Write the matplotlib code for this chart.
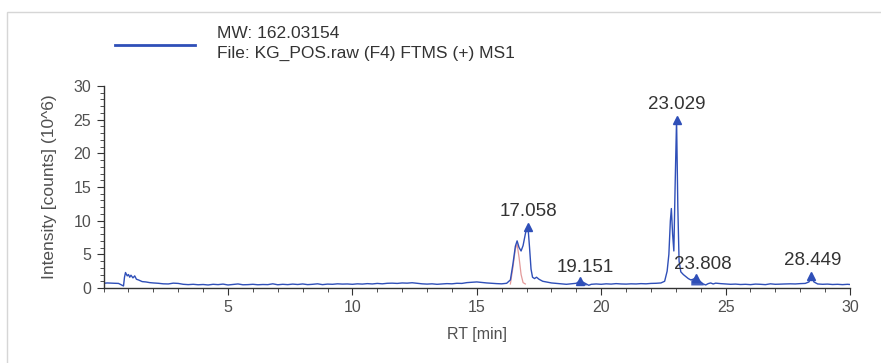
import matplotlib
matplotlib.use("Agg")
import matplotlib.pyplot as plt
from matplotlib.ticker import MultipleLocator
from matplotlib.patches import Rectangle
import numpy as np

plt.rcParams['font.family'] = ['Liberation Sans', 'DejaVu Sans']

# chromatogram trace, RT (min) vs intensity (10^6 counts)
rt = [0.00, 0.15, 0.30, 0.45, 0.60, 0.72, 0.80, 0.84, 0.88, 0.95, 1.00, 1.05, 1.10, 1.18, 1.25,
      1.32, 1.40, 1.55, 1.70, 1.85, 2.00, 2.20, 2.40, 2.60, 2.80, 3.00, 3.20, 3.40, 3.60, 3.80,
      4.00, 4.20, 4.40, 4.60, 4.80, 5.00, 5.20, 5.40, 5.60, 5.80, 6.00, 6.20, 6.40, 6.60, 6.80,
      7.00, 7.20, 7.40, 7.60, 7.80, 8.00, 8.20, 8.40, 8.60, 8.80, 9.00, 9.20, 9.40, 9.60, 9.80,
      10.00, 10.20, 10.40, 10.60, 10.80, 11.00, 11.20, 11.40, 11.60, 11.80, 12.00, 12.20, 12.40,
      12.60, 12.80, 13.00, 13.20, 13.40, 13.60, 13.80, 14.00, 14.20, 14.40, 14.60, 14.80, 15.00,
      15.20, 15.40, 15.60, 15.80, 16.00, 16.20, 16.35, 16.45, 16.55, 16.62, 16.70, 16.78, 16.86,
      16.95, 17.00, 17.058, 17.12, 17.18, 17.24, 17.32, 17.40, 17.50, 17.65, 17.80, 18.00, 18.20,
      18.40, 18.60, 18.80, 19.00, 19.10, 19.151, 19.25, 19.40, 19.50, 19.60, 19.80, 20.00, 20.20,
      20.40, 20.60, 20.80, 21.00, 21.20, 21.40, 21.60, 21.80, 22.00, 22.20, 22.40, 22.55, 22.65,
      22.72, 22.78, 22.82, 22.87, 22.92, 22.97, 23.029, 23.08, 23.13, 23.20, 23.30, 23.40, 23.50,
      23.60, 23.70, 23.808, 23.90, 24.00, 24.10, 24.20, 24.30, 24.40, 24.50, 24.60, 24.80, 25.00,
      25.20, 25.40, 25.60, 25.80, 26.00, 26.20, 26.40, 26.60, 26.80, 27.00, 27.20, 27.40, 27.60,
      27.80, 28.00, 28.20, 28.35, 28.449, 28.55, 28.70, 28.90, 29.10, 29.30, 29.50, 29.70, 29.90,
      30.00]
intensity = [0.70, 0.75, 0.72, 0.70, 0.68, 0.45, 0.30, 1.60, 2.30, 1.80, 2.00, 1.60, 1.90, 1.50, 1.80,
             1.30, 1.20, 0.95, 0.90, 0.80, 0.75, 0.70, 0.62, 0.60, 0.72, 0.68, 0.55, 0.50, 0.55, 0.48,
             0.52, 0.45, 0.55, 0.50, 0.58, 0.45, 0.52, 0.60, 0.48, 0.50, 0.55, 0.48, 0.52, 0.50, 0.62,
             0.48, 0.55, 0.50, 0.58, 0.52, 0.60, 0.50, 0.55, 0.62, 0.50, 0.58, 0.55, 0.62, 0.58, 0.60,
             0.55, 0.62, 0.58, 0.65, 0.60, 0.68, 0.62, 0.70, 0.72, 0.68, 0.75, 0.72, 0.78,
             0.70, 0.62, 0.58, 0.62, 0.55, 0.60, 0.65, 0.62, 0.70, 0.68, 0.80, 0.85, 0.90,
             0.82, 0.75, 0.70, 0.65, 0.62, 0.70, 1.20, 3.50, 6.20, 7.00, 6.00, 5.50, 6.30,
             8.00, 8.80, 9.00, 6.00, 2.80, 1.60, 1.40, 1.60, 1.30, 1.00, 0.90, 0.75, 0.68,
             0.60, 0.55, 0.62, 0.70, 0.95, 1.05, 0.90, 0.60, 0.40, 0.55, 0.60, 0.55, 0.62,
             0.58, 0.65, 0.60, 0.58, 0.62, 0.60, 0.65, 0.62, 0.68, 0.70, 0.75, 1.00, 2.50,
             5.00, 10.00, 11.80, 8.00, 5.50, 15.00, 25.00, 12.00, 4.00, 2.40, 2.00, 1.70, 1.40,
             1.20, 1.30, 1.55, 1.20, 0.90, 0.60, 0.45, 0.65, 0.75, 0.60, 0.72, 0.65, 0.60,
             0.55, 0.58, 0.52, 0.55, 0.50, 0.58, 0.55, 0.50, 0.62, 0.55, 0.58, 0.60, 0.62,
             0.60, 0.65, 0.68, 0.90, 1.80, 0.90, 0.60, 0.55, 0.58, 0.52, 0.55, 0.50, 0.55,
             0.52]

# deconvolved shoulder under the 17.058 peak
shoulder_rt = [16.35, 16.45, 16.55, 16.62, 16.70, 16.78, 16.86, 16.95]
shoulder_int = [0.60, 3.00, 5.80, 6.50, 4.50, 2.00, 0.80, 0.60]

# labelled peaks: apex RT and label offsets (pixels)
peak_rt = [17.058, 19.151, 23.029, 23.808, 28.449]
peak_dx = [0, 5, 0, 7, 1]
peak_dy = [7, 5, 7, 5, 7]

# filled integration windows
fill_windows = [(19.0, 19.5), (23.6, 24.1)]

blue = '#2f4fb8'
grey = '#505050'

fig = plt.figure(figsize=(8.81, 3.63), dpi=100)
fig.patches.append(Rectangle((7 / 881, -0.1), 1.0, 1.1 - 12 / 363, transform=fig.transFigure,
                             fill=False, edgecolor='#d6d6d6', linewidth=1.0))

ax = fig.add_axes([103.6 / 881, 1 - 288 / 363, (850 - 103.6) / 881, (288 - 86) / 363])

rt_arr = np.array(rt)
int_arr = np.array(intensity)
for lo, hi in fill_windows:
    mask = (rt_arr >= lo) & (rt_arr <= hi)
    ax.fill_between(rt_arr[mask], 0.45, int_arr[mask], where=int_arr[mask] > 0.45,
                    color=blue, alpha=0.9, linewidth=0)

ax.plot(shoulder_rt, shoulder_int, color='#e39a9a', linewidth=0.9)
ax.plot(rt, intensity, color=blue, linewidth=1.0)

for x, dx, dy in zip(peak_rt, peak_dx, peak_dy):
    y = intensity[rt.index(x)]
    ax.plot([x], [y], marker='^', color=blue, markersize=6, linestyle='none')
    ax.annotate(f"{x:.3f}", (x, y), xytext=(dx, dy), textcoords='offset pixels',
                ha='center', va='bottom', fontsize=13.5, color='#333333')

ax.set_xlim(0, 30)
ax.set_ylim(0, 30)
ax.xaxis.set_major_locator(MultipleLocator(5))
ax.xaxis.set_minor_locator(MultipleLocator(1))
ax.yaxis.set_major_locator(MultipleLocator(5))
ax.yaxis.set_minor_locator(MultipleLocator(1))
ax.set_xticks([5, 10, 15, 20, 25, 30])
ax.spines['top'].set_visible(False)
ax.spines['right'].set_visible(False)
for s in ('left', 'bottom'):
    ax.spines[s].set_color('#333333')
    ax.spines[s].set_linewidth(1.0)
ax.tick_params(which='major', length=5, color='#333333', labelsize=11.5, labelcolor=grey, pad=4)
ax.tick_params(which='minor', length=3, color='#333333')
ax.set_xlabel('RT [min]', fontsize=11.5, color=grey, labelpad=8)
ax.set_ylabel('Intensity [counts] (10^6)', fontsize=12.5, color=grey, labelpad=12)

# legend entry drawn at the top left
fig.add_artist(plt.Line2D([115 / 881, 195 / 881], [1 - 45 / 363, 1 - 45 / 363],
                          color=blue, linewidth=2, transform=fig.transFigure))
fig.text(217 / 881, 1 - 33 / 363, 'MW: 162.03154', fontsize=12.5, color='#333333', va='center')
fig.text(217 / 881, 1 - 53 / 363, 'File: KG_POS.raw (F4) FTMS (+) MS1', fontsize=12.5,
         color='#333333', va='center')

fig.savefig('out.png', dpi=100)
